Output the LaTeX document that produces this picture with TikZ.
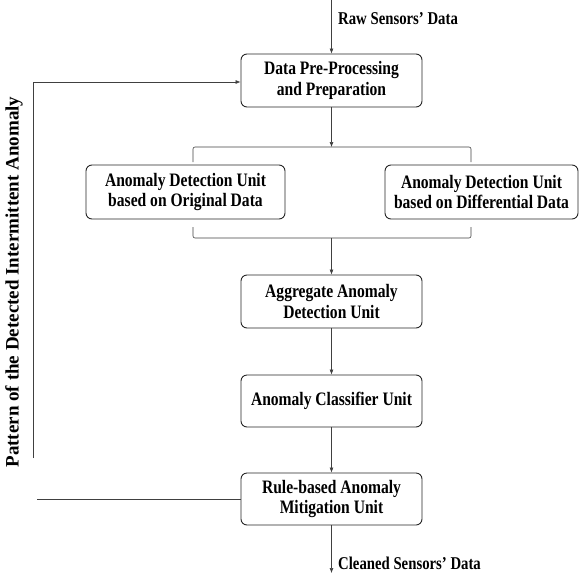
\documentclass[tikz,border=0pt]{standalone}
\usepackage{fontspec}
\setmainfont{Liberation Serif}[FakeStretch=0.82]
\newfontfamily\sidefont{Liberation Serif}[FakeStretch=1.0]
\usetikzlibrary{arrows.meta}
\begin{document}
\begin{tikzpicture}[x=1pt,y=-1pt,
  unit/.style={draw=black!85, line width=0.9pt, rounded corners=6pt, align=center,
    inner sep=0pt, font=\fontsize{19}{20.5}\selectfont\bfseries},
  conn/.style={draw=black!75, line width=0.6pt},
  arr/.style={conn, -{Latex[length=5pt,width=4pt]}},
  lbl/.style={anchor=west, inner sep=0pt, font=\fontsize{18}{20}\selectfont\bfseries}]
\useasboundingbox (0,0) rectangle (583,573);
\node[unit, minimum width=181pt, minimum height=53pt] (pre) at (331.5,80.5) {Data Pre-Processing\\and Preparation};
\node[unit, minimum width=199pt, minimum height=54pt] (orig) at (185.5,192) {Anomaly Detection Unit\\based on Original Data};
\node[unit, minimum width=193pt, minimum height=54pt] (diff) at (481.5,192) {Anomaly Detection Unit\\based on Differential Data};
\node[unit, minimum width=181pt, minimum height=53pt] (agg) at (331.5,301.5) {Aggregate Anomaly\\Detection Unit};
\node[unit, minimum width=181pt, minimum height=52pt] (cls) at (331.5,401) {Anomaly Classifier Unit};
\node[unit, minimum width=181pt, minimum height=52pt] (rule) at (331.5,499) {Rule-based Anomaly\\Mitigation Unit};

\coordinate (in) at (331.5,0);
\coordinate (out) at (331.5,573);
\coordinate (topc) at (331.5,147);
\coordinate (botc) at (331.5,238);
\coordinate (fbend) at (37,499);
\coordinate (fbstart) at (33,458);
\coordinate (fbcorner) at (33,82);

\node[lbl] (rawl) at (338,19) {Raw Sensors' Data};
\node[lbl] (cleanl) at (338,563) {Cleaned Sensors' Data};
\node[rotate=90, inner sep=0pt, font=\sidefont\fontsize{19}{20}\selectfont\bfseries] (pat) at (14,282) {Pattern of the Detected Intermittent Anomaly};

\draw[arr] (in) -- (pre.north);
\draw[arr] (pre.south) -- (topc);
\draw[conn, rounded corners=2pt] (193,162) -- (193,147) -- (471,147) -- (471,162);
\draw[conn, rounded corners=2pt] (193,227) -- (193,238) -- (471,238) -- (471,227);
\draw[arr] (botc) -- (agg.north);
\draw[arr] (agg.south) -- (cls.north);
\draw[arr] (cls.south) -- (rule.north);
\draw[arr] (rule.south) -- (out);
\draw[conn] (rule.west) -- (fbend);
\draw[arr] (fbstart) -- (fbcorner) -- (pre.west |- fbcorner);
\end{tikzpicture}
\end{document}
